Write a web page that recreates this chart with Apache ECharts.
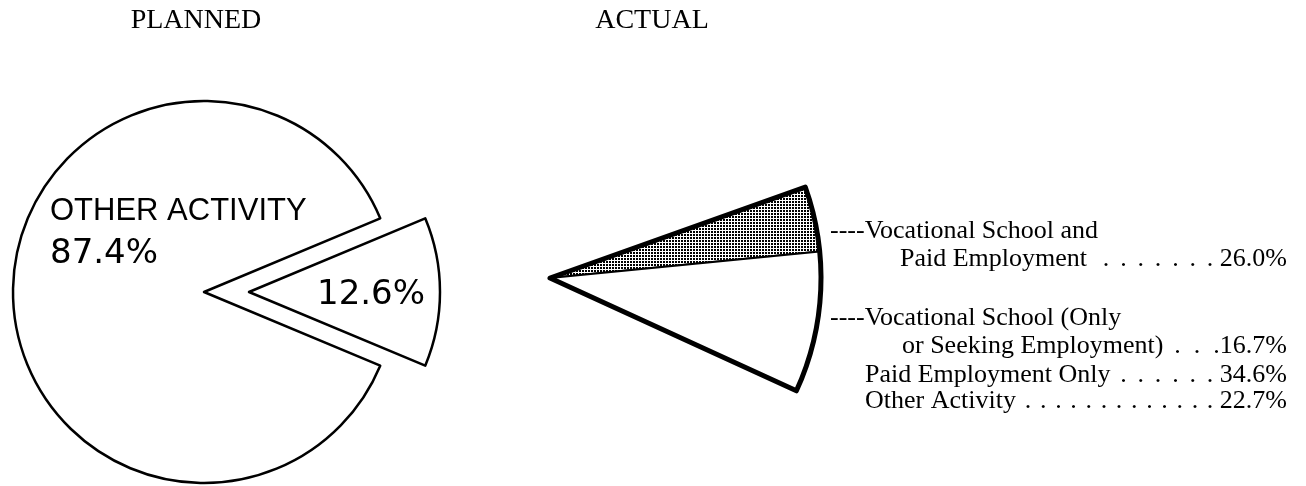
<!DOCTYPE html>
<html><head><meta charset="utf-8">
<script src="https://cdn.jsdelivr.net/npm/echarts@6/dist/echarts.min.js"></script>
<style>html,body{margin:0;padding:0;background:#fff}#c{width:1306px;height:486px}</style>
</head><body><div id="c"></div>
<script>
// ---- data ----
const titles = ['PLANNED', 'ACTUAL'];
const plannedNames = ['Vocational School', 'OTHER ACTIVITY'];
const plannedValues = [12.6, 87.4];
const actualNames = ['Vocational School and Paid Employment', 'Vocational School (Only or Seeking Employment)'];
const actualWedgeShares = [31.7, 68.3]; // share of the drawn wedge
const legendLabels = [['Vocational School and', 'Paid Employment'], ['Vocational School (Only', 'or Seeking Employment)'], ['Paid Employment Only'], ['Other Activity']];
const legendValues = [26.0, 16.7, 34.6, 22.7];
const legendDots = [7, 3, 6, 13];

// ---- styles ----
const SERIF = '"Liberation Serif", "Times New Roman", serif';
const SANS = '"Liberation Sans", Arial, sans-serif';
const WIDE = '"DejaVu Sans", sans-serif';

const pc = document.createElement('canvas');
pc.width = 3; pc.height = 3;
const px = pc.getContext('2d');
px.fillStyle = '#fff'; px.fillRect(0, 0, 3, 3);
px.fillStyle = '#000'; px.fillRect(0, 0, 2, 2);
const dotPattern = { image: pc, repeat: 'repeat' };

const chart = echarts.init(document.getElementById('c'), null, { renderer: 'canvas' });

const plannedStart = plannedValues[0] * 3.6 / 2;
const wedgeStart = 19.6, wedgeEnd = -24.6;

function txt(text, x, y, font, align) {
  return { type: 'text', x: x, y: y, z: 100, silent: true,
    style: { text: text, font: font, fill: '#000', textAlign: align || 'left', textVerticalAlign: 'middle' } };
}
function dots(n, sep) { return Array(n).fill('.').join(sep); }
const pct = v => v.toFixed(1) + '%';

const g = [];
g.push(txt(titles[0], 196, 21, '28px ' + SERIF, 'center'));
g.push(txt(titles[1], 652, 21, '28px ' + SERIF, 'center'));
g.push(txt(plannedNames[1], 50, 211, '31px ' + SANS));
g.push(txt(pct(plannedValues[1]), 50, 254, '34px ' + WIDE));
g.push(txt(pct(plannedValues[0]), 317, 295, '34px ' + WIDE));

const LF = '26px ' + SERIF;
const SEP_WIDE = ' \u2006';
const SEP_NARROW = '\u2004';
const RX = 1287;
// row 1
g.push(txt('----' + legendLabels[0][0], 830, 231, LF));
g.push(txt(legendLabels[0][1], 900, 259, LF));
g.push(txt(dots(legendDots[0], SEP_WIDE) + ' ' + pct(legendValues[0]), RX, 259, LF, 'right'));
// row 2
g.push(txt('----' + legendLabels[1][0], 830, 318, LF));
g.push(txt(legendLabels[1][1], 902, 346, LF));
g.push(txt(dots(legendDots[1], '  ') + pct(legendValues[1]), RX, 346, LF, 'right'));
// row 3
g.push(txt(legendLabels[2][0], 865, 375, LF));
g.push(txt(dots(legendDots[2], SEP_WIDE) + ' ' + pct(legendValues[2]), RX, 375, LF, 'right'));
// row 4
g.push(txt(legendLabels[3][0], 865, 401, LF));
g.push(txt(dots(legendDots[3], SEP_NARROW) + ' ' + pct(legendValues[3]), RX, 401, LF, 'right'));

const plainStyle = { color: '#fff', borderColor: '#000', borderWidth: 2.5 };

chart.setOption({
  animation: false,
  backgroundColor: '#fff',
  series: [
    {
      type: 'pie', name: 'Planned',
      center: [204, 292], radius: 191,
      startAngle: plannedStart, clockwise: true,
      selectedMode: 'single', selectedOffset: 45,
      data: plannedValues.map((v, i) => ({ value: v, name: plannedNames[i], selected: i === 0 })),
      itemStyle: plainStyle,
      select: { itemStyle: plainStyle },
      emphasis: { disabled: true },
      label: { show: false }, labelLine: { show: false }
    },
    {
      type: 'pie', name: 'Actual',
      center: [550, 278], radius: 271,
      startAngle: wedgeStart, endAngle: wedgeEnd, clockwise: true,
      data: actualWedgeShares.map((v, i) => ({ value: v, name: actualNames[i],
        itemStyle: { color: i === 0 ? dotPattern : '#fff' } })),
      itemStyle: { borderColor: '#000', borderWidth: 2 },
      emphasis: { disabled: true },
      label: { show: false }, labelLine: { show: false }
    },
    {
      type: 'pie', name: 'Actual outline',
      center: [550, 278], radius: 271,
      startAngle: wedgeStart, endAngle: wedgeEnd, clockwise: true,
      data: [{ value: actualWedgeShares.reduce((a, b) => a + b, 0), name: 'Vocational School' }],
      itemStyle: { color: 'rgba(0,0,0,0)', borderColor: '#000', borderWidth: 5, borderJoin: 'round' },
      emphasis: { disabled: true }, silent: true,
      label: { show: false }, labelLine: { show: false }
    }
  ],
  graphic: g
});
</script>
</body></html>
